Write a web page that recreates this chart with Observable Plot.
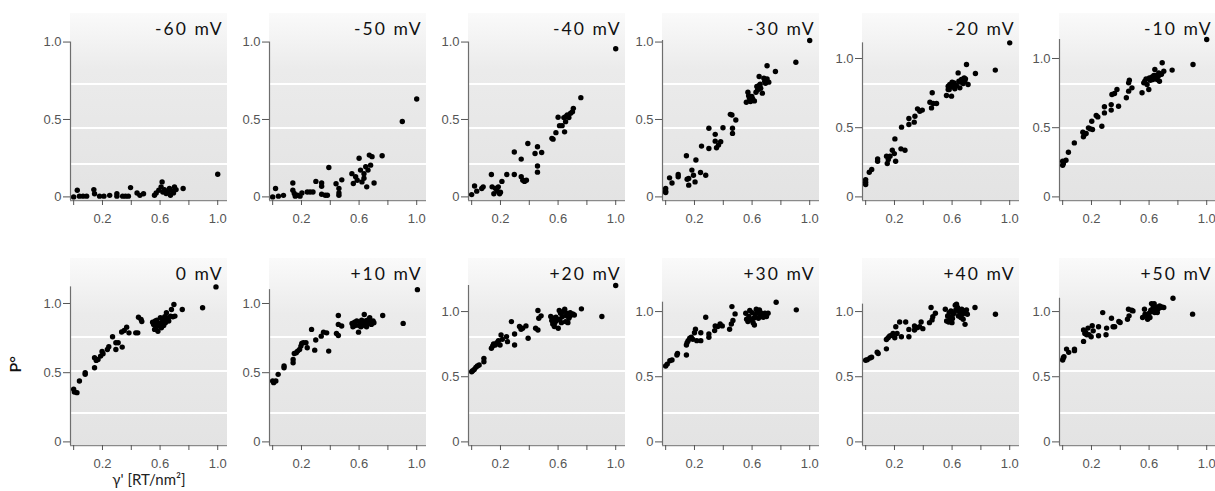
<!DOCTYPE html>
<html><head><meta charset="utf-8">
<script src="https://cdn.jsdelivr.net/npm/d3@7"></script>
<script src="https://cdn.jsdelivr.net/npm/@observablehq/plot@0.6"></script>
<style>
html,body{margin:0;padding:0;background:#fff;}
#chart{position:relative;width:1215px;height:491px;overflow:hidden;background:#fff;}
#chart svg{position:absolute;overflow:visible;}
.ttl text{letter-spacing:2px;}
#chart svg g[aria-label$="tick label"]{font-size:13px;font-family:'Liberation Sans',Arial,sans-serif;}
</style></head><body><div id="chart"></div>
<script>
const panelTitles = ["-60 mV","-50 mV","-40 mV","-30 mV","-20 mV","-10 mV","0 mV","+10 mV","+20 mV","+30 mV","+40 mV","+50 mV"];

const p_m60 = [[0,0.0],[0.025,0.043],[0.04,0.005],[0.065,0.005],[0.09,0.005],[0.14,0.047],[0.145,0.02],[0.18,0.005],[0.21,0.005],[0.25,0.01],[0.30,0.02],[0.30,0.005],[0.34,0.005],[0.36,0.005],[0.38,0.005],[0.395,0.06],[0.44,0.025],[0.46,0.01],[0.485,0.02],[0.561,0.011],[0.573,0.026],[0.591,0.043],[0.607,0.065],[0.614,0.097],[0.619,0.032],[0.63,0.047],[0.642,0.022],[0.654,0.032],[0.665,0.054],[0.672,0.011],[0.684,0.039],[0.693,0.026],[0.7,0.065],[0.711,0.047],[0.76,0.054],[1.0,0.146]];
const p_m50 = [[0,0],[0.02,0.054],[0.04,0.005],[0.075,0.01],[0.14,0.09],[0.14,0.043],[0.15,0.022],[0.157,0.005],[0.172,0.011],[0.19,0.005],[0.203,0.026],[0.24,0.032],[0.26,0.032],[0.28,0.032],[0.3,0.1],[0.34,0.09],[0.34,0.069],[0.34,0.017],[0.365,0.011],[0.38,0.011],[0.39,0.19],[0.44,0.085],[0.46,0.055],[0.46,0.025],[0.46,0.01],[0.48,0.11],[0.55,0.15],[0.56,0.087],[0.576,0.13],[0.587,0.108],[0.6,0.25],[0.61,0.173],[0.62,0.097],[0.634,0.12],[0.646,0.195],[0.653,0.065],[0.662,0.173],[0.671,0.27],[0.68,0.205],[0.69,0.26],[0.704,0.09],[0.634,0.15],[0.76,0.266],[0.9,0.487],[1.0,0.632]];
const p_m40 = [[0,0.015],[0.02,0.07],[0.035,0.037],[0.07,0.054],[0.08,0.065],[0.137,0.145],[0.142,0.065],[0.154,0.02],[0.166,0.054],[0.178,0.037],[0.185,0.065],[0.194,0.02],[0.2,0.03],[0.21,0.1],[0.244,0.145],[0.296,0.29],[0.296,0.145],[0.344,0.244],[0.344,0.13],[0.355,0.108],[0.367,0.1],[0.38,0.108],[0.39,0.345],[0.44,0.28],[0.457,0.324],[0.457,0.2],[0.457,0.16],[0.486,0.287],[0.557,0.378],[0.565,0.373],[0.585,0.415],[0.6,0.514],[0.61,0.46],[0.628,0.46],[0.645,0.42],[0.64,0.512],[0.652,0.518],[0.664,0.529],[0.675,0.512],[0.687,0.54],[0.7,0.55],[0.706,0.572],[0.652,0.486],[0.758,0.641],[1.0,0.957]];
const p_m30 = [[0,0.054],[0,0.037],[0,0.028],[0.027,0.123],[0.044,0.09],[0.087,0.145],[0.087,0.13],[0.144,0.266],[0.149,0.114],[0.16,0.076],[0.16,0.119],[0.182,0.173],[0.193,0.14],[0.204,0.097],[0.21,0.238],[0.242,0.158],[0.249,0.328],[0.278,0.14],[0.3,0.443],[0.3,0.313],[0.344,0.404],[0.344,0.36],[0.353,0.317],[0.367,0.335],[0.382,0.356],[0.398,0.447],[0.449,0.533],[0.46,0.529],[0.464,0.443],[0.464,0.41],[0.487,0.497],[0.56,0.611],[0.571,0.676],[0.576,0.654],[0.582,0.637],[0.589,0.616],[0.598,0.648],[0.604,0.633],[0.616,0.62],[0.627,0.676],[0.633,0.713],[0.638,0.691],[0.649,0.719],[0.656,0.728],[0.66,0.702],[0.671,0.67],[0.682,0.767],[0.687,0.745],[0.693,0.734],[0.704,0.762],[0.716,0.741],[0.649,0.778],[0.704,0.847],[0.762,0.81],[0.904,0.87],[1.0,1.01]];
const p_m20 = [[0,0.125],[0,0.106],[0,0.089],[0.025,0.178],[0.042,0.198],[0.083,0.275],[0.083,0.258],[0.145,0.294],[0.15,0.241],[0.157,0.27],[0.169,0.294],[0.185,0.337],[0.199,0.313],[0.203,0.419],[0.208,0.258],[0.245,0.347],[0.249,0.504],[0.273,0.337],[0.3,0.566],[0.3,0.523],[0.337,0.54],[0.342,0.583],[0.36,0.636],[0.376,0.619],[0.393,0.627],[0.446,0.684],[0.457,0.643],[0.462,0.752],[0.469,0.675],[0.492,0.675],[0.561,0.733],[0.573,0.8],[0.58,0.776],[0.584,0.812],[0.596,0.728],[0.603,0.795],[0.614,0.824],[0.619,0.781],[0.63,0.805],[0.642,0.896],[0.647,0.836],[0.654,0.788],[0.66,0.829],[0.665,0.848],[0.677,0.819],[0.684,0.86],[0.688,0.836],[0.693,0.853],[0.7,0.957],[0.711,0.812],[0.573,0.776],[0.6,0.829],[0.762,0.892],[0.9,0.916],[1.0,1.113]];
const p_m10 = [[0,0.258],[0,0.229],[0.005,0.241],[0.023,0.265],[0.04,0.323],[0.081,0.39],[0.14,0.467],[0.144,0.434],[0.151,0.451],[0.163,0.458],[0.179,0.499],[0.19,0.492],[0.202,0.547],[0.207,0.487],[0.233,0.588],[0.244,0.578],[0.272,0.511],[0.29,0.607],[0.29,0.651],[0.337,0.667],[0.337,0.627],[0.342,0.74],[0.36,0.747],[0.377,0.776],[0.388,0.655],[0.442,0.716],[0.458,0.824],[0.458,0.764],[0.463,0.843],[0.481,0.788],[0.551,0.752],[0.563,0.824],[0.57,0.836],[0.579,0.853],[0.586,0.812],[0.598,0.776],[0.602,0.86],[0.609,0.843],[0.621,0.867],[0.626,0.848],[0.633,0.877],[0.64,0.92],[0.644,0.877],[0.656,0.848],[0.663,0.872],[0.667,0.896],[0.672,0.836],[0.679,0.884],[0.686,0.887],[0.691,0.969],[0.702,0.908],[0.76,0.916],[0.905,0.957],[1.0,1.137]];
const p_0 = [[0,0.38],[0.005,0.361],[0.023,0.356],[0.04,0.44],[0.08,0.488],[0.08,0.5],[0.145,0.536],[0.145,0.608],[0.157,0.589],[0.169,0.596],[0.187,0.62],[0.197,0.654],[0.204,0.637],[0.234,0.668],[0.244,0.688],[0.27,0.76],[0.293,0.668],[0.293,0.716],[0.309,0.716],[0.333,0.794],[0.337,0.685],[0.351,0.805],[0.368,0.829],[0.384,0.788],[0.431,0.788],[0.445,0.788],[0.45,0.901],[0.473,0.87],[0.468,0.885],[0.548,0.865],[0.555,0.849],[0.562,0.813],[0.567,0.873],[0.574,0.832],[0.578,0.88],[0.585,0.8],[0.59,0.856],[0.595,0.837],[0.602,0.897],[0.609,0.825],[0.614,0.865],[0.621,0.88],[0.625,0.841],[0.632,0.904],[0.637,0.861],[0.644,0.933],[0.649,0.885],[0.656,0.897],[0.66,0.873],[0.672,0.909],[0.679,0.957],[0.689,0.904],[0.696,0.993],[0.703,0.909],[0.754,0.957],[0.895,0.969],[0.988,1.12]];
const p_p10 = [[0,0.44],[0.007,0.428],[0.022,0.44],[0.038,0.488],[0.079,0.536],[0.079,0.548],[0.142,0.572],[0.142,0.596],[0.15,0.639],[0.164,0.644],[0.173,0.656],[0.187,0.668],[0.196,0.692],[0.202,0.712],[0.213,0.716],[0.231,0.716],[0.24,0.68],[0.27,0.813],[0.292,0.663],[0.299,0.736],[0.337,0.764],[0.353,0.793],[0.375,0.788],[0.389,0.656],[0.443,0.784],[0.456,0.913],[0.456,0.849],[0.456,0.769],[0.479,0.837],[0.551,0.856],[0.557,0.832],[0.569,0.865],[0.573,0.841],[0.584,0.873],[0.596,0.793],[0.6,0.841],[0.607,0.861],[0.613,0.832],[0.618,0.88],[0.629,0.856],[0.636,0.921],[0.64,0.841],[0.645,0.873],[0.652,0.832],[0.658,0.88],[0.663,0.856],[0.674,0.897],[0.681,0.865],[0.685,0.849],[0.697,0.873],[0.703,0.861],[0.764,0.913],[0.906,0.856],[1.005,1.1]];
const p_p20 = [[0,0.538],[0.007,0.546],[0.018,0.556],[0.029,0.572],[0.04,0.582],[0.052,0.59],[0.085,0.615],[0.085,0.641],[0.137,0.718],[0.146,0.736],[0.152,0.751],[0.164,0.744],[0.175,0.762],[0.186,0.777],[0.197,0.744],[0.204,0.821],[0.213,0.787],[0.242,0.808],[0.249,0.769],[0.276,0.923],[0.298,0.828],[0.298,0.744],[0.332,0.885],[0.343,0.864],[0.354,0.872],[0.377,0.89],[0.392,0.795],[0.444,0.872],[0.46,0.859],[0.46,1.008],[0.466,0.949],[0.482,0.967],[0.549,0.962],[0.556,0.931],[0.563,0.905],[0.567,0.949],[0.574,0.885],[0.578,0.915],[0.585,0.956],[0.59,0.931],[0.601,0.872],[0.608,1.008],[0.612,0.941],[0.617,0.987],[0.623,0.915],[0.63,0.962],[0.635,1.0],[0.646,1.018],[0.652,0.923],[0.657,0.967],[0.661,0.987],[0.668,0.915],[0.675,0.949],[0.679,0.962],[0.684,0.992],[0.691,0.974],[0.702,0.982],[0.713,0.974],[0.762,1.021],[0.904,0.962],[1.0,1.2]];
const p_p30 = [[0,0.582],[0.011,0.597],[0.029,0.623],[0.044,0.628],[0.078,0.667],[0.082,0.679],[0.144,0.667],[0.144,0.744],[0.149,0.762],[0.156,0.777],[0.167,0.795],[0.178,0.803],[0.189,0.787],[0.2,0.838],[0.207,0.864],[0.216,0.777],[0.244,0.777],[0.244,0.838],[0.278,0.956],[0.3,0.828],[0.3,0.803],[0.34,0.854],[0.344,0.89],[0.362,0.885],[0.378,0.905],[0.393,0.89],[0.444,0.864],[0.456,0.905],[0.46,1.038],[0.467,0.931],[0.482,0.982],[0.556,0.987],[0.562,0.941],[0.571,0.923],[0.578,0.962],[0.584,1.008],[0.589,0.936],[0.6,0.992],[0.607,0.915],[0.611,0.949],[0.616,0.897],[0.622,0.974],[0.629,1.018],[0.633,0.992],[0.644,0.949],[0.651,1.013],[0.656,0.974],[0.66,0.992],[0.667,0.962],[0.678,0.956],[0.689,0.987],[0.7,0.962],[0.711,0.987],[0.767,1.072],[0.907,1.013]];
const p_p40 = [[0,0.626],[0.011,0.631],[0.03,0.644],[0.041,0.649],[0.08,0.688],[0.087,0.678],[0.144,0.714],[0.144,0.786],[0.156,0.799],[0.167,0.812],[0.179,0.817],[0.19,0.832],[0.202,0.799],[0.209,0.884],[0.218,0.832],[0.236,0.92],[0.248,0.807],[0.278,0.92],[0.3,0.863],[0.3,0.807],[0.339,0.889],[0.339,0.858],[0.356,0.876],[0.374,0.884],[0.397,0.869],[0.385,0.92],[0.443,0.915],[0.454,1.031],[0.461,0.936],[0.466,0.961],[0.484,0.987],[0.553,1.018],[0.562,0.928],[0.569,0.966],[0.576,0.92],[0.58,0.992],[0.585,0.954],[0.592,1.005],[0.599,0.915],[0.603,0.946],[0.608,0.979],[0.615,0.992],[0.622,1.049],[0.626,1.013],[0.631,1.057],[0.638,1.031],[0.644,0.966],[0.649,1.005],[0.654,0.992],[0.661,0.954],[0.667,1.018],[0.672,0.979],[0.677,0.941],[0.683,1.005],[0.69,0.902],[0.695,0.992],[0.7,1.013],[0.706,0.979],[0.759,1.031],[0.901,0.979]];
const p_p50 = [[0,0.628],[0.004,0.644],[0.009,0.654],[0.027,0.712],[0.042,0.687],[0.082,0.712],[0.082,0.7],[0.145,0.771],[0.145,0.858],[0.154,0.832],[0.16,0.84],[0.167,0.822],[0.176,0.873],[0.183,0.822],[0.198,0.807],[0.205,0.891],[0.212,0.852],[0.249,0.814],[0.249,0.883],[0.278,0.992],[0.301,0.822],[0.305,0.873],[0.339,0.949],[0.35,0.883],[0.361,0.883],[0.39,0.924],[0.399,0.916],[0.45,0.941],[0.457,1.018],[0.461,0.967],[0.479,1.01],[0.488,1.005],[0.555,0.954],[0.568,1.018],[0.572,0.98],[0.584,0.967],[0.59,0.941],[0.599,0.985],[0.606,0.954],[0.612,1.01],[0.617,1.061],[0.621,1.0],[0.628,1.031],[0.635,1.061],[0.639,0.992],[0.644,1.025],[0.65,1.036],[0.657,0.992],[0.661,1.018],[0.673,1.043],[0.679,1.031],[0.688,1.036],[0.702,1.031],[0.766,1.102],[0.902,0.98]];

const panelData = [p_m60, p_m50, p_m40, p_m30, p_m20, p_m10, p_0, p_p10, p_p20, p_p30, p_p40, p_p50];
const yTop = [1.01, 1.01, 1.01, 1.01, 1.13, 1.13, 1.13, 1.13, 1.2, 1.2, 1.2, 1.2];
const xDomain = [-0.022, 1.068];
const xTickValues = [0, 0.2, 0.4, 0.6, 0.8, 1.0];
const xTickLabels = ["", "0.2", "", "0.6", "", "1.0"];
const yTickValues = [0, 0.5, 1.0];
const yTickLabels = ["0", "0.5", "1.0"];
const xLabel = "γ' [RT/nm²]";
const yLabel = "P°";

// layout
const ML = 65, FW = 157, MR = 10, H = 245, MT = 40, MB = 45;
const colLeft = [70, 268.5, 467.5, 662, 862, 1059];
const stripeOffsets = [[70, 114, 150], [77.7, 112, 153.7]];
const BG_TOP = 13, BG_H = 189;
const tickFont = "'Liberation Sans', Arial, sans-serif";
const titleFont = "Lato, 'Open Sans', sans-serif";

const chart = document.getElementById("chart");

panelData.forEach((data, i) => {
  const row = Math.floor(i / 6), col = i % 6;
  const yHi = yTop[i], yLo = -0.023 * yHi;
  const axTop = Math.max(1, d3.max(data, d => d[1]));
  const marks = [
    Plot.ruleY([yLo], {x1: xDomain[0], x2: xDomain[1], stroke: "#8a8a8a", strokeWidth: 1}),
    Plot.ruleX([xDomain[0]], {y1: yLo, y2: axTop, stroke: "#6e6e6e", strokeWidth: 1.2}),
    Plot.axisX(xTickValues, {
      tickSize: 5, tickPadding: 8, fontSize: 13, fontFamily: tickFont, color: "#555",
      tickFormat: d => xTickLabels[xTickValues.indexOf(d)], label: null
    }),
    Plot.axisY(yTickValues, {
      tickSize: 7, tickPadding: 2, fontSize: 13, fontFamily: tickFont, color: "#555",
      tickFormat: d => yTickLabels[yTickValues.indexOf(d)], label: null
    }),
    Plot.dot(data, {x: d => d[0], y: d => d[1], r: 2.7, fill: "#000", stroke: "none"}),
    Plot.text([panelTitles[i]], {
      frameAnchor: "top-right", dx: -4, dy: -11, lineAnchor: "middle",
      fontSize: 17.5, fontFamily: titleFont, fill: "#111", className: "ttl"
    })
  ];
  if (i === 6) {
    marks.push(Plot.text([yLabel], {
      frameAnchor: "left", rotate: -90, dx: -55, dy: 7, lineAnchor: "middle",
      fontSize: 16, fontWeight: 600, fontFamily: titleFont, fill: "#111"
    }));
    marks.push(Plot.text([xLabel], {
      frameAnchor: "bottom", dy: 35, lineAnchor: "middle",
      fontSize: 15, fontFamily: titleFont, fill: "#222"
    }));
  }
  const svg = Plot.plot({
    width: ML + FW + MR, height: H,
    marginLeft: ML, marginRight: MR, marginTop: MT, marginBottom: MB,
    x: {domain: xDomain},
    y: {domain: [yLo, yHi]},
    marks
  });
  const lines = stripeOffsets[row].map(s => `linear-gradient(#fff,#fff) ${ML}px ${BG_TOP + s}px / ${FW}px 2px no-repeat`);
  svg.style.background = [...lines,
    `linear-gradient(to bottom, #fafafa 0%, #ebebeb 30%, #e3e3e3 100%) ${ML}px ${BG_TOP}px / ${FW}px ${BG_H}px no-repeat`
  ].join(",");
  svg.style.left = (colLeft[col] - ML) + "px";
  svg.style.top = (row * H) + "px";
  svg.style.maxWidth = "none";
  chart.appendChild(svg);
});
</script>
</body></html>
